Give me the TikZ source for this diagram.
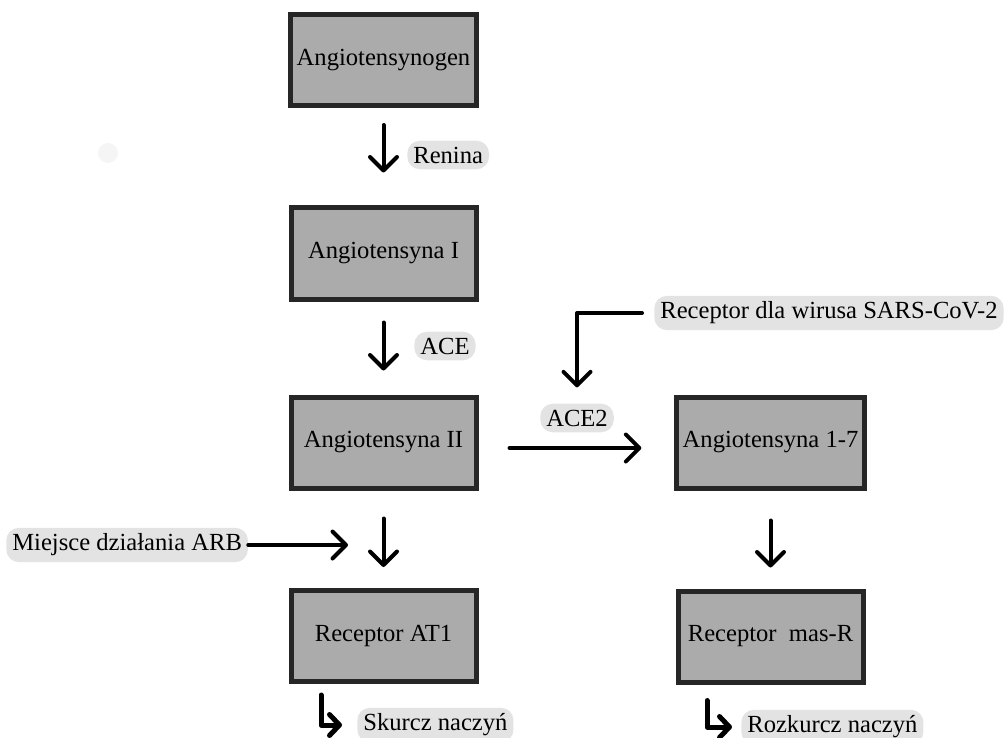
\documentclass[tikz,border=0pt]{standalone}
\usepackage{fontspec}
\setmainfont{Liberation Serif}
\usetikzlibrary{arrows.meta}

\begin{document}
\begin{tikzpicture}[
    box/.style={draw=black!85, fill=black!33, line width=0.100000cm, minimum width=3.700000cm, minimum height=1.820000cm, font=\fontsize{14}{16}\selectfont},
    tag/.style={fill=black!11, rounded corners=0.250000cm, inner sep=0.120000cm, font=\fontsize{14}{16}\selectfont},
    arrow/.style={line width=0.080000cm, line cap=round, -{Straight Barb[length=0.270000cm, width=0.540000cm, round]}},
    elbow/.style={line width=0.100000cm, line cap=round, line join=round, -{Straight Barb[length=0.200000cm, width=0.420000cm, round]}}
  ]
                    \useasboundingbox (0,0) rectangle (20.120000,14.740000);

                    % Marking faint spot
                    \fill [black!4] (2.160000,11.680000) circle (0.200000);%

                    % Drawing box Angiotensynogen
                    \node [box] (angiotensynogen) at (7.670000,13.540000) {Angiotensynogen};%

                    % Drawing box Angiotensyna I
                    \node [box] (angiotensynaI) at (7.670000,9.670000) {Angiotensyna I};%

                    % Drawing box Angiotensyna II
                    \node [box] (angiotensynaII) at (7.670000,5.890000) {Angiotensyna II};%

                    % Drawing box Angiotensyna 1-7
                    \node [box] (angiotensyna17) at (15.410000,5.890000) {Angiotensyna 1-7};%

                    % Drawing box Receptor AT1
                    \node [box] (receptorAT1) at (7.670000,2.020000) {Receptor AT1};%

                    % Drawing box Receptor mas-R
                    \node [box] (receptorMasR) at (15.410000,2.010000) {Receptor\ \ mas-R};%

                    % Marking labels
                    \node [tag, anchor=west] (renina) at (8.140000,11.640000) {Renina};%
                    \node [tag, anchor=west] (ace) at (8.280000,7.820000) {ACE};%
                    \node [tag] (ace2) at (11.540000,6.380000) {ACE2};%
                    \node [tag, anchor=west] (sars) at (13.080000,8.480000) {Receptor dla wirusa SARS-CoV-2};%
                    \node [tag, anchor=west] (arb) at (0.120000,3.840000) {Miejsce działania ARB};%
                    \node [tag, anchor=west] (skurcz) at (7.140000,0.240000) {Skurcz naczyń};%
                    \node [tag, anchor=west] (rozkurcz) at (14.820000,0.200000) {Rozkurcz naczyń};%

                    % Drawing arrows down the left column
                    \draw [arrow, shorten <=0.340000cm, shorten >=0.660000cm] (angiotensynogen) -- (angiotensynaI);%
                    \draw [arrow, shorten <=0.420000cm, shorten >=0.480000cm] (angiotensynaI) -- (angiotensynaII);%
                    \draw [arrow, shorten <=0.560000cm, shorten >=0.420000cm] (angiotensynaII) -- (receptorAT1);%

                    % Drawing arrows of the right column
                    \draw [arrow, shorten <=0.620000cm, shorten >=0.660000cm] ([yshift=-0.110000cm]angiotensynaII.east) -- ([yshift=-0.110000cm]angiotensyna17.west);%
                    \draw [arrow, shorten <=0.600000cm, shorten >=0.420000cm] (angiotensyna17) -- (receptorMasR);%

                    % Drawing receptor arrow onto ACE2
                    \draw [arrow, line join=round, shorten <=0.240000cm, shorten >=0.320000cm] (sars.west) -| (ace2);%

                    % Drawing ARB arrow
                    \coordinate (arbtip) at (6.960000,3.840000);%
                    \draw [arrow] (arb.east) -- (arbtip);%

                    % Drawing elbow arrows
                    \draw [elbow, shorten >=0.300000cm] ([xshift=-1.250000cm, yshift=-0.220000cm]receptorAT1.south) |- (skurcz);%
                    \draw [elbow, shorten >=0.180000cm] ([xshift=-1.270000cm, yshift=-0.320000cm]receptorMasR.south) |- (rozkurcz);%
\end{tikzpicture}
\end{document}
